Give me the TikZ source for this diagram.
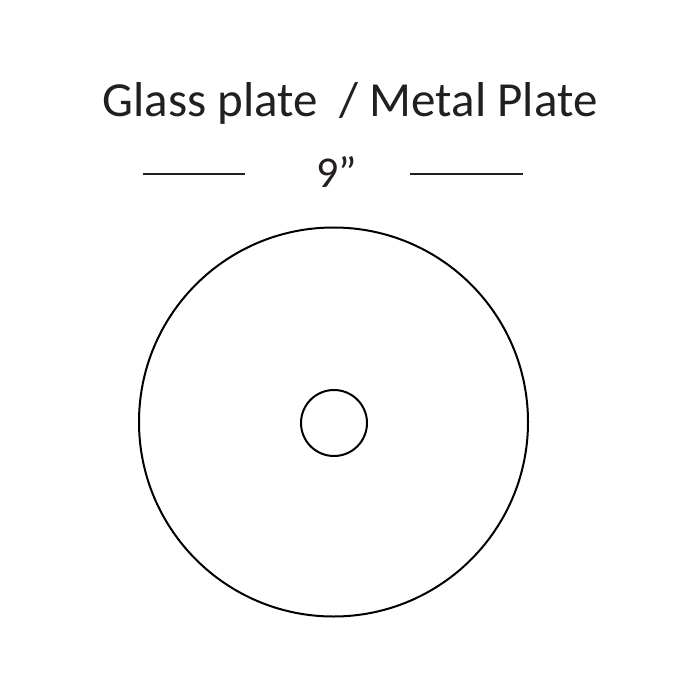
\documentclass[tikz,border=0pt]{standalone}
\usepackage{fontspec}
\setmainfont{Carlito}
\definecolor{txt}{HTML}{231F20}
\begin{document}
\begin{tikzpicture}[x=1pt,y=-1pt,
  lbl/.style={text=txt,font=\fontsize{49}{58}\selectfont,inner sep=0pt,anchor=base},
  rule/.style={draw=txt,line width=1.3pt},
  ring/.style={draw=black,line width=2pt}]
\useasboundingbox (0,0) rectangle (700,700);
\node[lbl] (title) at (350,117) {Glass plate~ / Metal Plate};
\node[lbl,font=\fontsize{44}{52}\selectfont] (dim) at (337,188) {9”};
\coordinate (l1) at (143,174); \coordinate (l2) at (245,174);
\coordinate (r1) at (410,174); \coordinate (r2) at (523,174);
\draw[rule] (l1) -- (l2);
\draw[rule] (r1) -- (r2);
\node[ring,circle,minimum size=389pt,inner sep=0pt] (plate) at (333.5,422) {};
\node[ring,circle,minimum size=66pt,inner sep=0pt] (hole) at (334,423) {};
\end{tikzpicture}
\end{document}
